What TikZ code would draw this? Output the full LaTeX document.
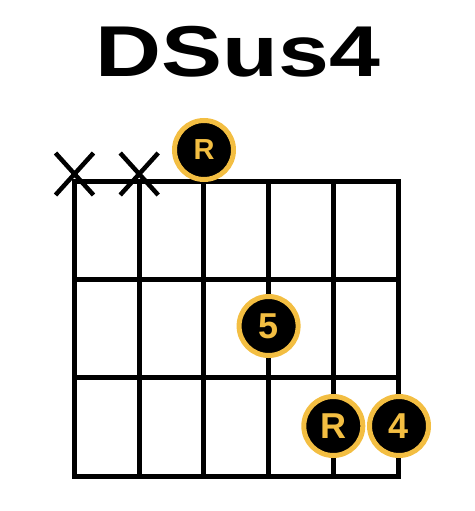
\documentclass[tikz,border=0pt]{standalone}
\usepackage{fontspec}
\setmainfont{Liberation Sans}
\definecolor{chordgold}{RGB}{243,190,66}

\begin{document}
\begin{tikzpicture}[x=1pt,y=-1pt,
    stringline/.style={line width=5pt},
    fretline/.style={line width=5pt, line cap=rect},
    mutemark/.style={line width=4.5pt},
    fingerdot/.style={circle, fill=black, draw=chordgold, line width=5pt,
      minimum size=59pt, inner sep=0pt, text=chordgold,
      font=\fontsize{36}{36}\selectfont\bfseries},
  ]
  \useasboundingbox (0,0) rectangle (474,511);
  % title
  \node[anchor=base, inner sep=0pt] (title) at (238,77)
    {\scalebox{1.27}[1]{\fontsize{72}{72}\selectfont\bfseries DSus4}};
  % strings and frets
  \foreach \s/\x in {1/74.5,2/139.2,3/203.9,4/268.6,5/333.3,6/398} {
    \coordinate (top\s) at (\x,181);
    \coordinate (bot\s) at (\x,476);
    \draw[stringline] (top\s) -- (bot\s);
  }
  \foreach \f/\y in {0/181,1/279,2/377,3/476}
    \draw[fretline] (74.5,\y) -- (398,\y);
  % muted strings
  \foreach \s in {1,2} {
    \coordinate (mute\s) at ([shift={(0,-7)}]top\s);
    \draw[mutemark] ([shift={(-19,-21)}]mute\s) -- ([shift={(19,21)}]mute\s)
                    ([shift={(19,-21)}]mute\s) -- ([shift={(-19,21)}]mute\s);
  }
  % fingers
  \node[fingerdot, font=\fontsize{29}{29}\selectfont\bfseries] (open3) at (204,150) {R};
  \node[fingerdot] (fifth) at (268.6,326) {5};
  \node[fingerdot] (root) at (333.3,426) {R};
  \node[fingerdot] (fourth) at (399,426) {4};
\end{tikzpicture}
\end{document}
